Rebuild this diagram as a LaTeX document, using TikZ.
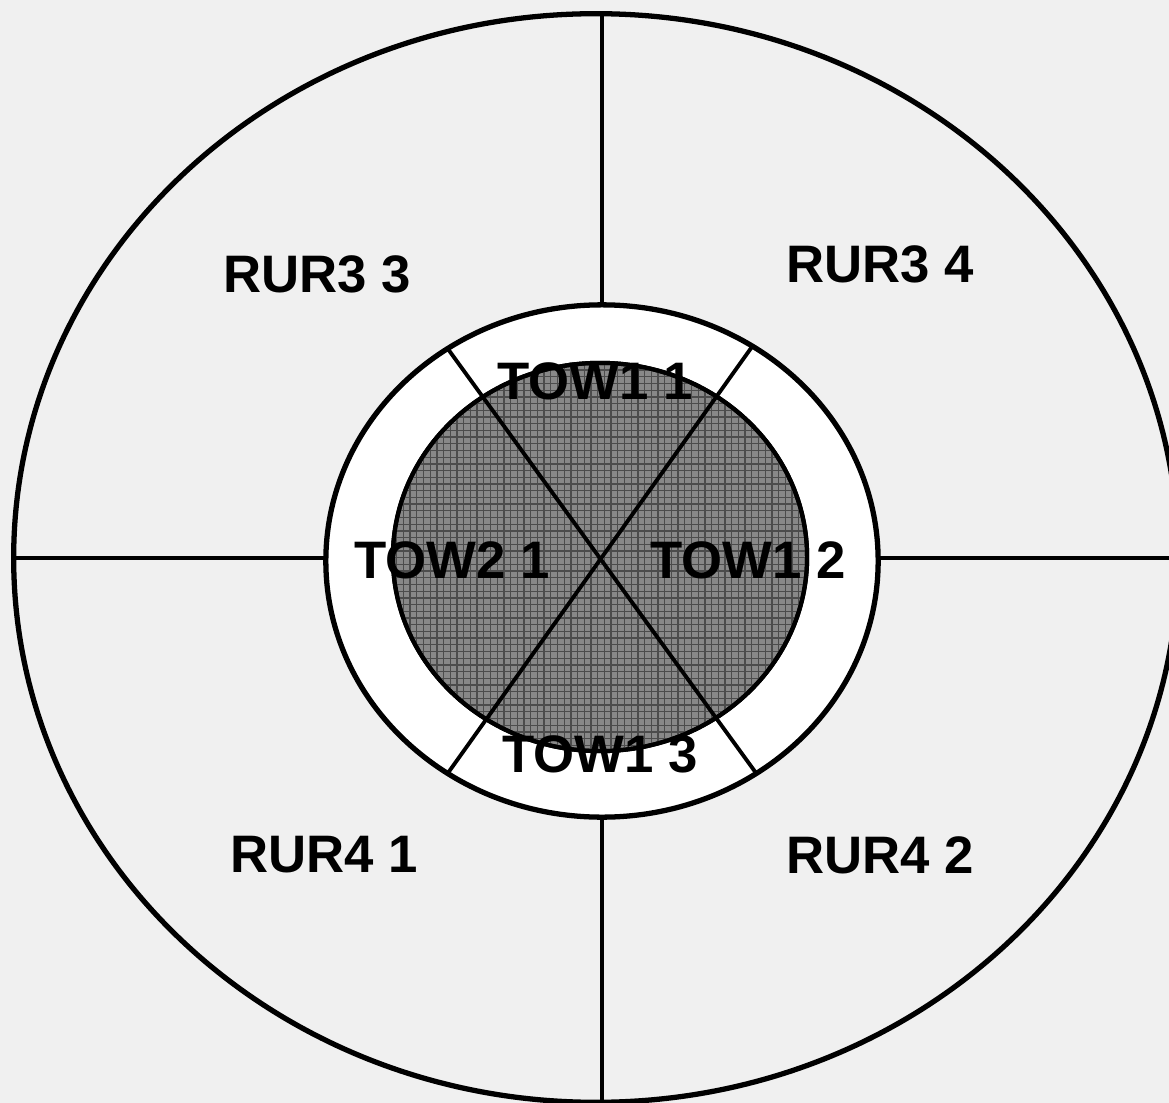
\documentclass[tikz,border=0pt]{standalone}
\usepackage{fontspec}
\setmainfont{Liberation Sans}
\usetikzlibrary{shapes.geometric}
\definecolor{paper}{HTML}{F0F0F0}
\definecolor{disk}{HTML}{888888}
\tikzset{
  plan/.style={x=0.01cm, y=-0.01cm, line join=round},
  ring/.style={ellipse, draw, line width=1.5pt, inner sep=0pt, outer sep=0pt},
  core/.style={ring, fill=disk, line width=1.2pt},
  cut/.style={line width=1.1pt},
  mesh/.style={black!70, line width=0.35pt},
  lbl/.style={font=\bfseries\fontsize{15}{18}\selectfont, inner sep=0pt}
}
\begin{document}
\begin{tikzpicture}[plan]
    \fill[paper] (0,0) rectangle (1169,1103);
    \clip (0,0) rectangle (1169,1103);

    \node[ring, minimum width=11.64cm, minimum height=10.88cm] (outer) at (596,558) {};
    \node[ring, fill=white, minimum width=5.52cm, minimum height=5.12cm] (inner) at (602,561) {};
    \node[core, minimum width=4.14cm, minimum height=3.88cm] (core) at (600,557) {};

    \begin{scope}
      \clip (core.center) ellipse [x radius=2.05cm, y radius=1.92cm];
      \foreach \g in {0,...,63} {
        \draw[mesh] (390+\g*6.7,350) -- ++(0,410);
        \draw[mesh] (390,350+\g*6.7) -- ++(430,0);
      }
    \end{scope}
    \draw[line width=1.2pt] (core.center) ellipse [x radius=2.07cm, y radius=1.94cm];

    \draw[cut] (inner.north) -- (inner.north |- outer.north);
    \draw[cut] (inner.south) -- (inner.south |- outer.south);
    \draw[cut] (outer.west) -- (outer.west -| inner.west);
    \draw[cut] (outer.east -| inner.east) -- (outer.east);
    \draw[cut] (inner.126) -- (inner.306);
    \draw[cut] (inner.55) -- (inner.234);

    \node[lbl] (r33) at (317,274) {RUR3 3};
    \node[lbl] (r34) at (880,264) {RUR3 4};
    \node[lbl] (r41) at (324,855) {RUR4 1};
    \node[lbl] (r42) at (880,855) {RUR4 2};
    \node[lbl] (t11) at (595,381) {TOW1 1};
    \node[lbl] (t21) at (452,560) {TOW2 1};
    \node[lbl] (t12) at (748,560) {TOW1 2};
    \node[lbl] (t13) at (600,754) {TOW1 3};
\end{tikzpicture}
\end{document}
